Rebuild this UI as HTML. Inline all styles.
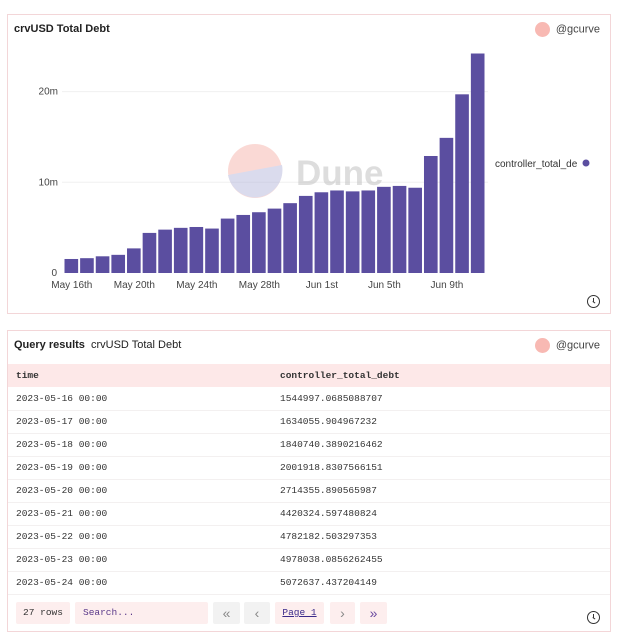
<!DOCTYPE html>
<html><head><meta charset="utf-8"><style>
body{margin:0;width:620px;height:639px;background:#fff;font-family:"Liberation Sans",sans-serif;position:relative;overflow:hidden}
.panel{position:absolute;left:7px;width:604px;border:1px solid #f3d6d8;background:#fff;box-sizing:border-box}
.title{position:absolute;left:6px;top:8px;font-size:11px;font-weight:bold;color:#222}
.user{position:absolute;right:10px;top:7px;font-size:11px;color:#444}
.user span.av{display:inline-block;width:15px;height:15px;border-radius:50%;background:#f8b9b3;vertical-align:middle;margin-right:6px}
.mono{font-family:"Liberation Mono",monospace;font-size:9.5px;color:#333}
.row{position:absolute;left:0;width:602px;height:23px;border-bottom:1px solid #f3f0f0}
.row div{position:absolute;top:6px}
.btn{position:absolute;top:271px;height:22px;background:#fdeeee;border-radius:2px;font-size:14px;line-height:22px;text-align:center}
.clock{position:absolute;right:10px;width:11px;height:11px;border:1.2px solid #333;border-radius:50%}
.clock:before{content:"";position:absolute;left:5px;top:2px;width:1px;height:4px;background:#333}
.clock:after{content:"";position:absolute;left:5px;top:5px;width:3px;height:1px;background:#333;transform:rotate(35deg);transform-origin:0 0}
</style></head><body>
<div class="panel" style="top:14px;height:300px">
 <div class="title">crvUSD Total Debt</div>
 <div class="user"><span class="av"></span>@gcurve</div>
 <div class="clock" style="top:280px"></div>
</div>
<svg id="chart" width="620" height="320" style="position:absolute;left:0;top:0">
 <g id="grid"></g>
 <g opacity="0.5">
  <circle cx="255" cy="171" r="27" fill="#f7b5ad"/>
  <path d="M228,175 L282,165 A27,27 0 0 1 228,175 Z" fill="#b6b8dc"/>
  <text x="296" y="185" font-size="35" font-weight="bold" fill="#bdbdbd" font-family="Liberation Sans,sans-serif">Dune</text>
 </g>
 <g id="bars"></g><g id="xl"></g>
 <text x="495" y="167" font-size="10" fill="#333" font-family="Liberation Sans,sans-serif">controller_total_de</text>
 <rect x="580" y="155" width="15" height="16" fill="#fff"/>
 <circle cx="586" cy="163" r="3.5" fill="#5b4ea0"/>
</svg>
<div class="panel" style="top:330px;height:302px">
 <div class="title">Query results <span style="font-weight:normal;margin-left:3px">crvUSD Total Debt</span></div>
 <div class="user"><span class="av"></span>@gcurve</div>
 <div class="row" style="top:33px;background:#fde8e8;border:none">
  <div class="mono" style="left:8px;font-weight:bold">time</div><div class="mono" style="left:272px;font-weight:bold">controller_total_debt</div></div>
 <div id="rows"></div>
 <div class="btn mono" style="left:8px;width:54px;font-size:9.5px">27 rows</div>
 <div class="btn mono" style="left:67px;width:133px;text-align:left;padding-left:8px;box-sizing:border-box;color:#5b3a8a;font-size:9.5px">Search...</div>
 <div class="btn" style="left:205px;width:27px;background:#f2f2f2;color:#888">«</div>
 <div class="btn" style="left:236px;width:26px;background:#f2f2f2;color:#888">‹</div>
 <div class="btn mono" style="left:267px;width:49px;color:#3a2a8a;text-decoration:underline;font-size:9.5px">Page 1</div>
 <div class="btn" style="left:322px;width:25px;color:#888">›</div>
 <div class="btn" style="left:352px;width:27px;color:#6a4aa0">»</div>
 <div class="clock" style="top:280px"></div>
</div>
<script>
const categories=["05-16","05-17","05-18","05-19","05-20","05-21","05-22","05-23","05-24","05-25","05-26","05-27","05-28","05-29","05-30","05-31","06-01","06-02","06-03","06-04","06-05","06-06","06-07","06-08","06-09","06-10","06-11"];
const values=[1.545,1.634,1.841,2.002,2.714,4.420,4.782,4.978,5.073,4.9,6.0,6.4,6.7,7.1,7.7,8.5,8.9,9.1,9.0,9.1,9.5,9.6,9.4,12.9,14.9,19.7,24.2];
const yTicks=[0,10,20];
const yTickLabels=["0","10m","20m"];
const xLabels=[[0,"May 16th"],[4,"May 20th"],[8,"May 24th"],[12,"May 28th"],[16,"Jun 1st"],[20,"Jun 5th"],[24,"Jun 9th"]];
const tableTimes=["2023-05-16 00:00","2023-05-17 00:00","2023-05-18 00:00","2023-05-19 00:00","2023-05-20 00:00","2023-05-21 00:00","2023-05-22 00:00","2023-05-23 00:00","2023-05-24 00:00"];
const tableDebt=["1544997.0685088707","1634055.904967232","1840740.3890216462","2001918.8307566151","2714355.890565987","4420324.597480824","4782182.503297353","4978038.0856262455","5072637.437204149"];
const NS="http://www.w3.org/2000/svg";
const x0=64,x1=486,yBase=273,perM=9.07;
const slot=(x1-x0)/categories.length;
const xs=i=>x0+i*slot, ys=v=>yBase-v*perM;
const grid=document.getElementById('grid');
yTicks.forEach((t,i)=>{
 const l=document.createElementNS(NS,'line');
 l.setAttribute('x1',62);l.setAttribute('x2',488);l.setAttribute('y1',ys(t));l.setAttribute('y2',ys(t));
 l.setAttribute('stroke',t===0?'#fff':'#f0f0f0');
 grid.appendChild(l);
 const tx=document.createElementNS(NS,'text');
 
 
 tx.setAttribute('x',t===0?57:58);tx.setAttribute('y',ys(t)+3);tx.setAttribute('text-anchor','end');
 tx.setAttribute('font-size','10');tx.setAttribute('fill','#444');tx.setAttribute('font-family','Liberation Sans,sans-serif');
 tx.textContent=yTickLabels[i];grid.appendChild(tx);
});
const bars=document.getElementById('bars');
values.forEach((v,i)=>{
 const r=document.createElementNS(NS,'rect');
 
 
 r.setAttribute('x',xs(i)+0.5);r.setAttribute('width',slot-2);
 r.setAttribute('y',ys(v));r.setAttribute('height',v*perM);r.setAttribute('fill','#5b4ea0');
 bars.appendChild(r);
});
const xl=document.getElementById('xl');
xLabels.forEach(([i,s])=>{
 const tx=document.createElementNS(NS,'text');
 
 
 tx.setAttribute('x',xs(i)+slot/2);tx.setAttribute('y',288);tx.setAttribute('text-anchor','middle');
 tx.setAttribute('font-size','10');tx.setAttribute('fill','#444');tx.setAttribute('font-family','Liberation Sans,sans-serif');
 tx.textContent=s;xl.appendChild(tx);
});
const rows=document.getElementById('rows');
tableTimes.forEach((t,i)=>{
 const r=document.createElement('div');r.className='row';r.style.top=(56+i*23)+'px';
 
 
 r.innerHTML='<div class="mono" style="left:8px">'+t+'</div><div class="mono" style="left:272px">'+tableDebt[i]+'</div>';
 rows.appendChild(r);
});
</script>
</body></html>
